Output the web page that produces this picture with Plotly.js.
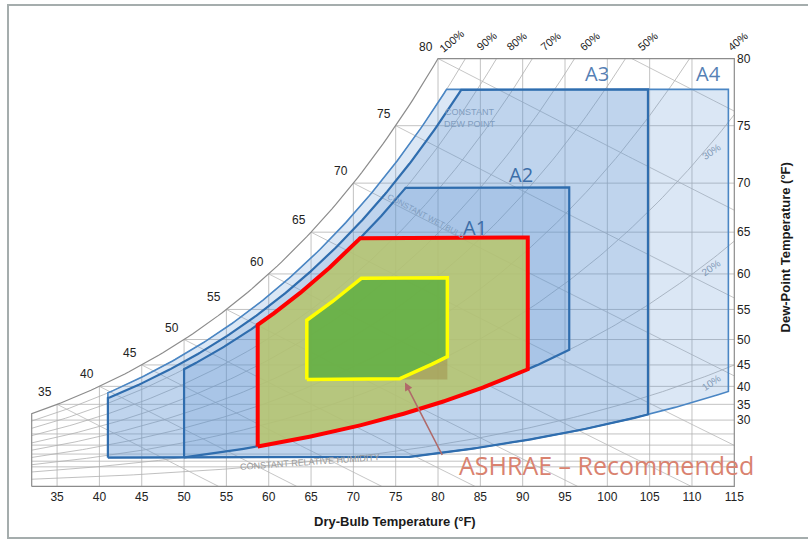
<!DOCTYPE html>
<html><head><meta charset="utf-8">
<script src="https://cdn.plot.ly/plotly-3.0.1.min.js"></script>
<style>html,body{margin:0;padding:0;background:#fff;overflow:hidden}#chart{width:808px;height:539px}
#frame{position:absolute;left:7px;top:4px;width:820px;height:531px;border:2px solid #a5adad;pointer-events:none}</style>
</head><body><div id="chart"></div><div id="frame"></div>
<script>
// ---- data ----
const xTicks = [35,40,45,50,55,60,65,70,75,80,85,90,95,100,105,110,115];
const dpTicks = [30,35,40,45,50,55,60,65,70,75,80];
const extraDpLines = [5,10,15,20,25];
const dbGrid = [35,40,45,50,55,60,65,70,75,80,85,90,95,100,105,110];
const satLabelTemps = [35,40,45,50,55,60,65,70,75,80];
const rhCurves = [10,20,30,40,50,60,70,80,90];
const rhTopLabels = ['100%','90%','80%','70%','60%','50%','40%'];
const rhTopLabelPos = [0.5976,0.6472,0.6900,0.7380,0.7935,0.8757,1.0033];
const rhSideLabels = ['30%','20%','10%'];
const rhSideLevels = [30,20,10];
const wetBulbTemps = [35,40,45,50,55,60,65,70,75,80,85,90];
// envelopes: A4, A3, A2, A1
const envNames = ['A4','A3','A2','A1'];
const envDbMin = [41, 41, 50, 58.7];
const envDbMax = [114.3, 104.8, 95.5, 90.6];
const envRhMin = [8, 8, 20, 20];
const envRhMax = [90, 85, 80, 80];
const envDpMin = [12.7, 12.7, -40, -40];
const envDpMax = [77.8, 77.8, 69.6, 64.4];
// recommended envelope
const recDb = [64.5, 81.1];
const recDp = [41.7, 59.5];
const recRh = [30, 67];
const envLabelDb = [111.9, 98.8, 89.8, 84.4];

// ---- psychrometrics (coordinate transform dew point / RH -> humidity ratio) ----
const P = 14.696;
function psat(Tf){const c=(Tf-32)/1.8;let k;if(c>=0)k=0.61094*Math.exp(17.625*c/(c+243.04));else k=0.61115*Math.exp(22.452*c/(272.55+c));return k*0.145038;}
function wPw(pw){return 0.621945*pw/(P-pw);}
function wDp(dp){return wPw(psat(dp));}
function wRh(T,rh){return wPw(rh/100*psat(T));}
const Wtop = wDp(80);
const XMIN=32, XMAX=115;

function line(xs,ys,color,width,dash){return {type:'scatter',mode:'lines',x:xs,y:ys,line:{color:color,width:width,dash:dash||'solid'},hoverinfo:'skip',showlegend:false,cliponaxis:true};}

const traces=[];
// vertical dry-bulb grid
{const xs=[],ys=[];dbGrid.forEach(T=>{xs.push(T,T,null);ys.push(0,Math.min(wDp(T),Wtop),null);});traces.push(line(xs,ys,'#b3b3b3',0.8));}
// horizontal dew-point lines
{const xs=[],ys=[];extraDpLines.concat(dpTicks.slice(0,-1)).forEach(dp=>{const w=wDp(dp);xs.push(Math.max(XMIN,dp),XMAX,null);ys.push(w,w,null);});traces.push(line(xs,ys,'#b3b3b3',0.8));}
// RH curves
{const xs=[],ys=[];rhCurves.forEach(rh=>{let pT=null,pW=null;for(let T=XMIN;T<=XMAX+1e-9;T+=0.5){const w=wRh(T,rh);if(w>Wtop){const t=pT+(Wtop-pW)/(w-pW)*(T-pT);xs.push(t);ys.push(Wtop);break;}xs.push(T);ys.push(w);pT=T;pW=w;}xs.push(null);ys.push(null);});traces.push(line(xs,ys,'#b0b0b0',0.8));}
// wet-bulb lines
{const xs=[],ys=[];wetBulbTemps.forEach(tw=>{const w0=wDp(tw);const h=0.24*tw+w0*(1061+0.444*tw);let started=false,pT=null,pW=null;for(let T=tw;T<=XMAX+1e-9;T+=0.5){const w=(h-0.24*T)/(1061+0.444*T);if(w>Wtop){pT=T;pW=w;continue;}if(!started&&pT!==null){const t=pT+(Wtop-pW)/(w-pW)*(T-pT);xs.push(t);ys.push(Wtop);}started=true;if(w<0){const t=pT+(0-pW)/(w-pW)*(T-pT);xs.push(t);ys.push(0);break;}xs.push(T);ys.push(w);pT=T;pW=w;}xs.push(null);ys.push(null);});traces.push(line(xs,ys,'#b8b8b8',0.8));}

// envelope polygons
function env(dbMin,dbMax,rhMin,rhMax,dpMin,dpMax){const xs=[],ys=[],n=240;const lo=wDp(dpMin),hi=wDp(dpMax);for(let i=0;i<=n;i++){const T=dbMin+(dbMax-dbMin)*i/n;xs.push(T);ys.push(Math.max(lo,wRh(T,rhMin)));}for(let i=n;i>=0;i--){const T=dbMin+(dbMax-dbMin)*i/n;xs.push(T);ys.push(Math.min(hi,wRh(T,rhMax)));}xs.push(xs[0]);ys.push(ys[0]);return {xs,ys};}
const envStyle=[
 {fill:'rgba(90,145,210,0.22)',line:'#4a86c4',w:1.6},
 {fill:'rgba(90,145,210,0.22)',line:'#2f6dae',w:2.2},
 {fill:'rgba(90,145,210,0.22)',line:'#2f6dae',w:2.2},
 {fill:'rgba(184,198,107,0.85)',line:'#ff0000',w:4}
];
envNames.forEach((n,i)=>{const e=env(envDbMin[i],envDbMax[i],envRhMin[i],envRhMax[i],envDpMin[i],envDpMax[i]);const s=envStyle[i];traces.push({type:'scatter',mode:'lines',x:e.xs,y:e.ys,fill:'toself',fillcolor:s.fill,line:{color:s.line,width:s.w},hoverinfo:'skip',showlegend:false,name:n});});
// corner patch below recommended envelope
{const xs=[],ys=[];const lo=wDp(recDp[0]);const T0=recDb[1]-7;const n=60;for(let i=0;i<=n;i++){const T=T0+7*i/n;xs.push(T);ys.push(lo);}for(let i=n;i>=0;i--){const T=T0+7*i/n;xs.push(T);ys.push(Math.max(lo,Math.min(wDp(recDp[1]),wRh(T,recRh[0]))));}traces.push({type:'scatter',mode:'lines',x:xs,y:ys,fill:'toself',fillcolor:'rgba(150,115,50,0.35)',line:{width:0,color:'rgba(0,0,0,0)'},hoverinfo:'skip',showlegend:false});}
// recommended envelope
{const e=env(recDb[0],recDb[1],recRh[0],recRh[1],recDp[0],recDp[1]);traces.push({type:'scatter',mode:'lines',x:e.xs,y:e.ys,fill:'toself',fillcolor:'rgba(95,174,66,0.85)',line:{color:'#ffff00',width:3.5},hoverinfo:'skip',showlegend:false});}
// chart frame + saturation curve
{const xs=[XMIN,XMAX,XMAX,80],ys=[0,0,Wtop,Wtop];for(let T=80;T>=XMIN-1e-9;T-=0.5){xs.push(T);ys.push(wDp(T));}xs.push(XMIN);ys.push(0);traces.push(line(xs,ys,'#8c8c8c',1.2));}

const annotations=[];
const C={xanchor:'center',yanchor:'middle'};
satLabelTemps.forEach(t=>annotations.push({x:t,y:wDp(t),xref:'x',yref:'y',text:String(t),showarrow:false,xanchor:'right',yanchor:'bottom',xshift:-3,yshift:3,font:{family:'Liberation Sans, Arial',size:12,color:'#222'}}));
rhTopLabels.forEach((t,i)=>annotations.push(Object.assign({x:rhTopLabelPos[i],y:1.036,xref:'paper',yref:'paper',text:t,showarrow:false,textangle:-40,font:{family:'Liberation Sans, Arial',size:11,color:'#222'}},C)));
rhSideLabels.forEach((t,i)=>annotations.push(Object.assign({x:112.3,y:wRh(112.3,rhSideLevels[i]),xref:'x',yref:'y',text:t,showarrow:false,textangle:-35,yshift:-8,font:{family:'Liberation Sans, Arial',size:10,color:'#8098b5'}},C)));
// region labels
annotations.push(Object.assign({x:envLabelDb[0],y:0.9618,xref:'x',yref:'paper',text:'A4',showarrow:false,font:{family:'Open Sans, Arial',size:20,color:'#5580b5'}},C));
annotations.push(Object.assign({x:envLabelDb[1],y:0.9618,xref:'x',yref:'paper',text:'A3',showarrow:false,font:{family:'Open Sans, Arial',size:20,color:'#5580b5'}},C));
annotations.push(Object.assign({x:envLabelDb[2],y:0.01616,xref:'x',yref:'y',text:'A2',showarrow:false,font:{family:'Open Sans, Arial',size:20,color:'#3d6ea8'}},C));
annotations.push(Object.assign({x:envLabelDb[3],y:0.013415,xref:'x',yref:'y',text:'A1',showarrow:false,font:{family:'Open Sans, Arial',size:20,color:'#3d6ea8'}},C));
// faint chart notes
annotations.push(Object.assign({x:83.8,y:0.0191,xref:'x',yref:'y',text:'CONSTANT<br>DEW POINT',showarrow:false,font:{family:'Liberation Sans, Arial',size:9,color:'#7f9dbf'}},C));
annotations.push(Object.assign({x:78.6,y:0.0140,xref:'x',yref:'y',text:'CONSTANT WET BULB',showarrow:false,textangle:28,font:{family:'Liberation Sans, Arial',size:8,color:'#7f9dbf'}},C));
annotations.push(Object.assign({x:64.9,y:0.00125,xref:'x',yref:'y',text:'CONSTANT RELATIVE HUMIDITY',showarrow:false,textangle:-4,font:{family:'Liberation Sans, Arial',size:9,color:'#9a9a9a'}},C));
// ASHRAE label + arrow
annotations.push(Object.assign({x:99.9,y:0.00109,xref:'x',yref:'y',text:'ASHRAE – Recommended',showarrow:false,font:{family:'Open Sans, Arial',size:25,color:'#d9826f'}},C));
annotations.push({x:76.1,y:0.00539,xref:'x',yref:'y',text:'',showarrow:true,ax:38,ay:74,arrowhead:2,arrowsize:1,arrowwidth:1.6,arrowcolor:'#b06a6a'});
// axis titles
annotations.push(Object.assign({x:0.517,y:-0.0775,xref:'paper',yref:'paper',text:'<b>Dry-Bulb Temperature (°F)</b>',showarrow:false,font:{family:'Liberation Sans, Arial',size:13,color:'#1a1a1a'}},C));
annotations.push(Object.assign({x:1.070,y:0.559,xref:'paper',yref:'paper',text:'<b>Dew-Point Temperature (°F)</b>',showarrow:false,textangle:-90,font:{family:'Liberation Sans, Arial',size:13,color:'#1a1a1a'}},C));

const layout={
 width:808,height:539,
 margin:{l:30.3,r:72.3,t:56.5,b:50.5},
 paper_bgcolor:'#ffffff',plot_bgcolor:'rgba(0,0,0,0)',
 showlegend:false,
 xaxis:{range:[31.8,115.2],tickvals:xTicks,ticktext:xTicks.map(String),showgrid:false,zeroline:false,showline:false,ticks:'',tickfont:{family:'Liberation Sans, Arial',size:12,color:'#222'},fixedrange:true},
 yaxis:{range:[-0.00008,Wtop+0.00008],side:'right',tickvals:dpTicks.map(wDp),ticktext:dpTicks.map(String),showgrid:false,zeroline:false,showline:false,ticks:'',tickfont:{family:'Liberation Sans, Arial',size:12,color:'#222'},fixedrange:true},
 annotations:annotations
};
Plotly.newPlot('chart',traces,layout,{displayModeBar:false,staticPlot:true});
</script></body></html>
